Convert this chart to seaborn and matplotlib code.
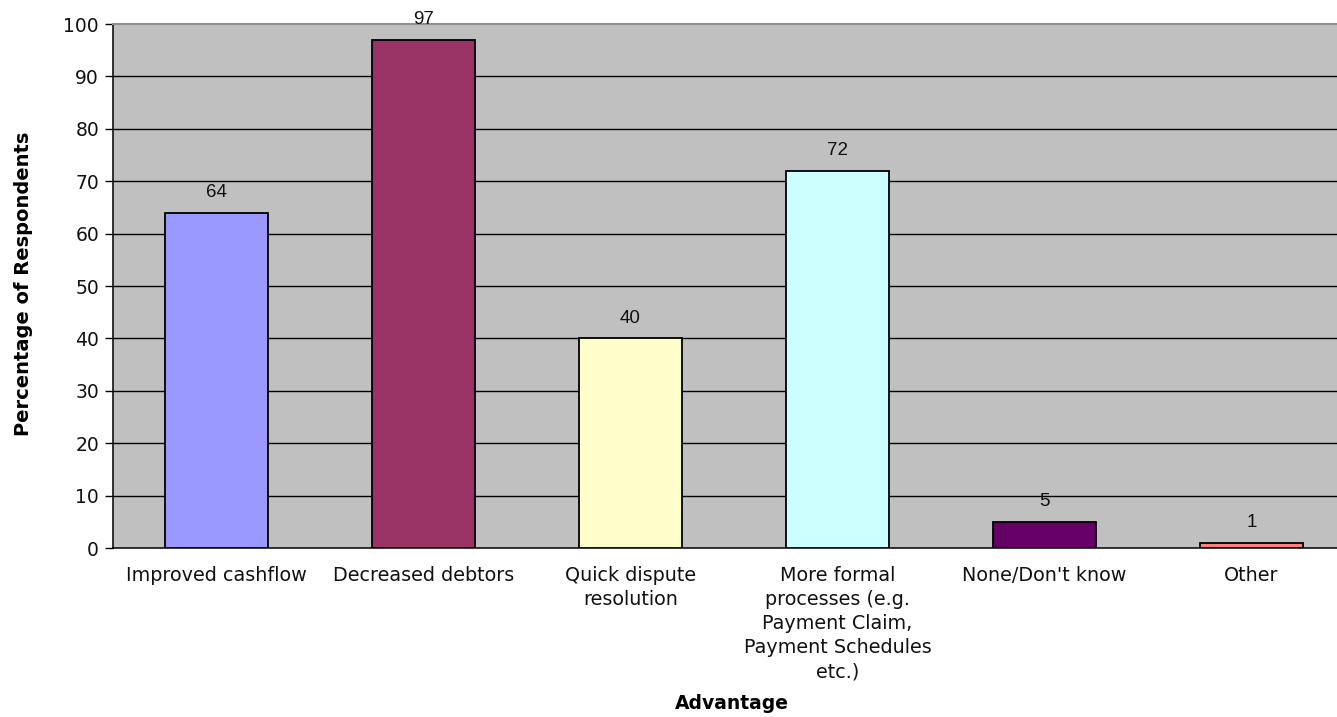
import matplotlib
matplotlib.use("Agg")
import matplotlib.pyplot as plt
import seaborn as sns
import pandas as pd
import numpy as np

categories = [
    "Improved cashflow",
    "Decreased debtors",
    "Quick dispute\nresolution",
    "More formal\nprocesses (e.g.\nPayment Claim,\nPayment Schedules\netc.)",
    "None/Don't know",
    "Other",
]
values = [64, 97, 40, 72, 5, 1]
bar_colors = ["#9999FF", "#993366", "#FFFFCC", "#CCFFFF", "#660066", "#FF8080"]
y_ticks = [0, 10, 20, 30, 40, 50, 60, 70, 80, 90, 100]

sns.set_style("white")
plt.rcParams["font.family"] = ["DejaVu Sans"]

df = pd.DataFrame({"Advantage": categories, "Percentage": values})

W, H, DPI = 1337, 717, 100
fig = plt.figure(figsize=(W / DPI, H / DPI), dpi=DPI)
left, right, top, bottom = 113, 1355, 24, 548
ax = fig.add_axes([left / W, 1 - bottom / H, (right - left) / W, (bottom - top) / H])
ax.set_facecolor("#C0C0C0")

sns.barplot(
    data=df, x="Advantage", y="Percentage", hue="Advantage",
    palette=bar_colors, saturation=1, legend=False, width=0.5,
    edgecolor="black", linewidth=1.3, ax=ax, zorder=3,
)

ax.set_ylim(0, 100)
ax.set_xlim(-0.5, len(categories) - 0.5)
ax.set_yticks(y_ticks)
ax.set_yticklabels([str(t) for t in y_ticks], fontsize=13.5, color="#111111")
for t in y_ticks[1:-1]:
    ax.axhline(t, color="black", linewidth=1.0, zorder=1)

# category labels sit at bar centres, tick marks at category boundaries
ax.set_xticks(np.arange(len(categories)))
ax.set_xticklabels(categories, fontsize=13.8, color="#111111", linespacing=1.34)
ax.tick_params(axis="x", length=0, pad=13)
ax.set_xticks(np.arange(len(categories) + 1) - 0.5, minor=True)
ax.tick_params(axis="x", which="minor", length=6, width=1, color="black", direction="out")
ax.tick_params(axis="y", length=6, width=1, color="black", direction="out", left=True, pad=4)

ax.spines["right"].set_visible(False)
ax.spines["top"].set_color("#909090")
ax.spines["top"].set_linewidth(1.5)
for s in ["left", "bottom"]:
    ax.spines[s].set_color("black")
    ax.spines[s].set_linewidth(1.1)

for i, v in enumerate(values):
    ax.text(i, v + 2.2, str(v), ha="center", va="bottom", fontsize=13.5,
            family="Liberation Sans", color="#111111", clip_on=False, zorder=4)

ax.set_xlabel("Advantage", fontsize=13.5, fontweight="bold", color="black")
ax.set_ylabel("Percentage of Respondents", fontsize=14, fontweight="bold", color="black")
ax.xaxis.set_label_coords((732 - left) / (right - left), -(694 - bottom) / (bottom - top))
ax.yaxis.set_label_coords(-(113 - 33) / (right - left), 0.5 + 2.5 / (bottom - top))

fig.savefig("out.png", dpi=DPI)
